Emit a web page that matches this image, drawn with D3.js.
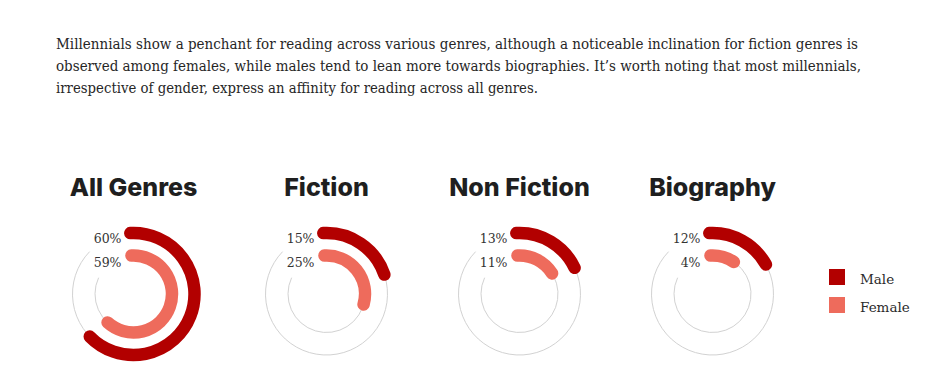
<!DOCTYPE html>
<html>
<head>
<meta charset="utf-8">
<script src="https://cdn.jsdelivr.net/npm/d3@7"></script>
<style>
  html, body { margin: 0; padding: 0; background: #fff; }
</style>
</head>
<body>
<div id="chart"></div>
<script>
// data
const introLines = [
  "Millennials show a penchant for reading across various genres, although a noticeable inclination for fiction genres is",
  "observed among females, while males tend to lean more towards biographies. It\u2019s worth noting that most millennials,",
  "irrespective of gender, express an affinity for reading across all genres."
]
const genres = ["All Genres", "Fiction", "Non Fiction", "Biography"]
const maleValues = [60, 15, 13, 12]
const femaleValues = [59, 25, 11, 4]
const seriesNames = ["Male", "Female"]
const seriesColors = ["#b20000", "#ee6b5c"]

const width = 952
const height = 386
const lineWidths = [802, 805, 482]
const bodyFont = "'DejaVu Serif', serif"

const svg = d3.select('#chart')
  .append('svg')
  .attr('width', width)
  .attr('height', height)

svg.append('rect').attr('width', width).attr('height', height).attr('fill', '#fff')

// intro paragraph
const intro = svg.append('g').attr('class', 'intro')
intro.selectAll('text')
  .data(introLines)
  .enter()
  .append('text')
  .attr('x', 56)
  .attr('y', (d, i) => 49 + i * 22)
  .attr('font-family', bodyFont)
  .attr('font-size', 14)
  .attr('fill', '#262626')
  .attr('textLength', (d, i) => lineWidths[i])
  .attr('lengthAdjust', 'spacingAndGlyphs')
  .text(d => d)

// scales
const xScale = d3.scaleBand()
  .domain(genres)
  .range([37, 809])

const cy = 294
const ringRadius = { Male: 61, Female: 38.5 }
const trackEnd = { Male: 314, Female: 295 }
const startAngle = -3

const angleScale = d3.scaleLinear()
  .domain([0, 100])
  .range([20, 363])

const rad = deg => deg * Math.PI / 180

const arcPath = (r, a0, a1) => {
  const p = d3.path()
  p.arc(0, 0, r, rad(a0) - Math.PI / 2, rad(a1) - Math.PI / 2)
  return p.toString()
}

const rows = genres.map((g, i) => ({
  genre: g,
  values: [
    { series: "Male", value: maleValues[i] },
    { series: "Female", value: femaleValues[i] }
  ]
}))

const charts = svg.selectAll('g.genre')
  .data(rows)
  .enter()
  .append('g')
  .attr('class', 'genre')
  .attr('transform', d => 'translate(' + (xScale(d.genre) + xScale.bandwidth() / 2) + ',' + cy + ')')

// titles
charts.append('text')
  .attr('x', 0)
  .attr('y', 196 - cy)
  .attr('text-anchor', 'middle')
  .attr('font-family', "Inter, 'Open Sans', sans-serif")
  .attr('font-weight', 800)
  .attr('font-size', 25)
  .attr('fill', '#1f1f1f')
  .text(d => d.genre)

// grey tracks
charts.selectAll('path.track')
  .data(d => d.values)
  .enter()
  .append('path')
  .attr('class', 'track')
  .attr('d', d => arcPath(ringRadius[d.series], 0, trackEnd[d.series]))
  .attr('fill', 'none')
  .attr('stroke', '#d2d2d2')
  .attr('stroke-width', 1)

// value arcs
charts.selectAll('path.bar')
  .data(d => d.values)
  .enter()
  .append('path')
  .attr('class', 'bar')
  .attr('d', d => arcPath(ringRadius[d.series], startAngle, angleScale(d.value)))
  .attr('fill', 'none')
  .attr('stroke', d => seriesColors[seriesNames.indexOf(d.series)])
  .attr('stroke-width', 12.5)
  .attr('stroke-linecap', 'round')

// value labels
charts.selectAll('text.label')
  .data(d => d.values)
  .enter()
  .append('text')
  .attr('class', 'label')
  .attr('x', -12)
  .attr('y', d => -ringRadius[d.series] + (d.series === "Male" ? 10 : 11.5))
  .attr('text-anchor', 'end')
  .attr('font-family', bodyFont)
  .attr('font-size', 12.5)
  .attr('fill', '#333')
  .text(d => d.value + '%')

// legend
const legend = svg.append('g')
  .attr('class', 'legend')
  .attr('transform', 'translate(829,269)')

const legendItems = legend.selectAll('g')
  .data(seriesNames)
  .enter()
  .append('g')
  .attr('transform', (d, i) => 'translate(0,' + i * 28 + ')')

legendItems.append('rect')
  .attr('width', 16)
  .attr('height', 16)
  .attr('fill', (d, i) => seriesColors[i])

legendItems.append('text')
  .attr('x', 31)
  .attr('y', 14.5)
  .attr('font-family', bodyFont)
  .attr('font-size', 13.5)
  .attr('fill', '#2b2b2b')
  .text(d => d)
</script>
</body>
</html>
